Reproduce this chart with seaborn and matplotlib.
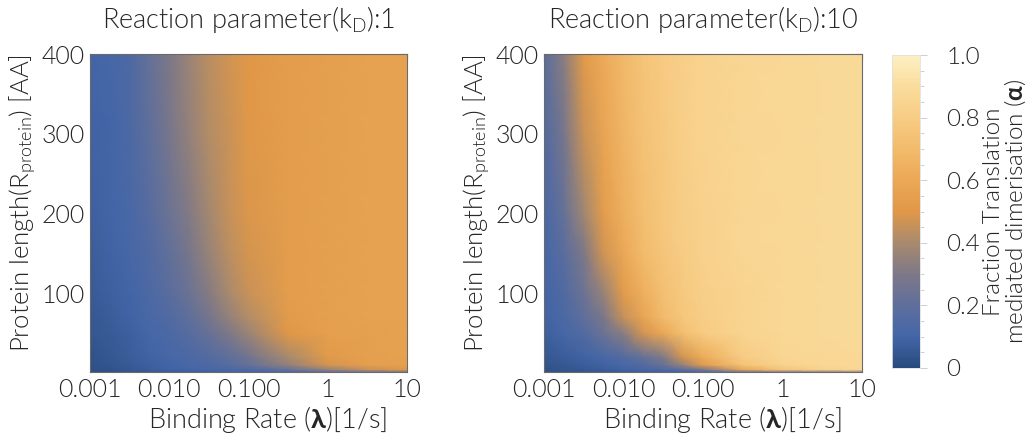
import numpy as np
import matplotlib
matplotlib.use("Agg")
import matplotlib.pyplot as plt
from matplotlib.ticker import FixedLocator, LogLocator, MultipleLocator, NullFormatter
import seaborn as sns

# Sampling grid: binding rate (1/s) and protein length (AA)
binding_rate = [0.001, 0.00178, 0.00316, 0.00562, 0.01, 0.0178, 0.0316,
                0.0562, 0.1, 0.316, 1.0, 3.16, 10.0]
protein_length = [1, 4, 10, 20, 50, 70, 100, 150, 200, 300, 400]

# Fraction of translation-mediated dimerisation, k_D = 1 (rows follow protein_length)
alpha_kd1 = [
    [0.02, 0.03, 0.04, 0.05, 0.06, 0.07, 0.08, 0.09, 0.10, 0.13, 0.18, 0.22, 0.25],
    [0.02, 0.03, 0.05, 0.07, 0.09, 0.10, 0.11, 0.12, 0.14, 0.22, 0.35, 0.45, 0.50],
    [0.03, 0.04, 0.06, 0.08, 0.10, 0.12, 0.14, 0.17, 0.22, 0.35, 0.48, 0.54, 0.55],
    [0.03, 0.05, 0.07, 0.09, 0.11, 0.13, 0.16, 0.20, 0.26, 0.40, 0.51, 0.55, 0.56],
    [0.05, 0.06, 0.08, 0.11, 0.13, 0.17, 0.23, 0.30, 0.37, 0.50, 0.54, 0.55, 0.56],
    [0.05, 0.07, 0.09, 0.12, 0.15, 0.20, 0.27, 0.35, 0.42, 0.52, 0.55, 0.56, 0.56],
    [0.06, 0.08, 0.10, 0.13, 0.18, 0.24, 0.32, 0.40, 0.46, 0.53, 0.55, 0.56, 0.56],
    [0.07, 0.09, 0.11, 0.15, 0.21, 0.28, 0.36, 0.43, 0.48, 0.53, 0.55, 0.56, 0.56],
    [0.08, 0.10, 0.12, 0.17, 0.24, 0.31, 0.39, 0.45, 0.49, 0.53, 0.55, 0.56, 0.56],
    [0.09, 0.10, 0.13, 0.20, 0.28, 0.35, 0.42, 0.46, 0.50, 0.53, 0.55, 0.56, 0.56],
    [0.10, 0.11, 0.14, 0.22, 0.30, 0.37, 0.43, 0.47, 0.50, 0.53, 0.55, 0.56, 0.56],
]

# Same quantity for k_D = 10
alpha_kd10 = [
    [0.02, 0.03, 0.04, 0.05, 0.06, 0.07, 0.08, 0.10, 0.12, 0.20, 0.28, 0.32, 0.35],
    [0.03, 0.04, 0.05, 0.07, 0.09, 0.11, 0.14, 0.19, 0.28, 0.58, 0.75, 0.83, 0.86],
    [0.04, 0.05, 0.07, 0.09, 0.12, 0.16, 0.23, 0.36, 0.52, 0.75, 0.84, 0.87, 0.88],
    [0.05, 0.07, 0.09, 0.12, 0.16, 0.22, 0.31, 0.48, 0.62, 0.80, 0.86, 0.87, 0.88],
    [0.08, 0.11, 0.16, 0.24, 0.33, 0.48, 0.60, 0.72, 0.79, 0.85, 0.87, 0.88, 0.88],
    [0.09, 0.13, 0.20, 0.29, 0.45, 0.58, 0.70, 0.77, 0.81, 0.85, 0.87, 0.88, 0.88],
    [0.10, 0.15, 0.24, 0.36, 0.52, 0.64, 0.73, 0.78, 0.82, 0.85, 0.87, 0.88, 0.88],
    [0.11, 0.18, 0.30, 0.47, 0.60, 0.70, 0.76, 0.80, 0.83, 0.86, 0.87, 0.88, 0.88],
    [0.12, 0.22, 0.38, 0.53, 0.64, 0.72, 0.77, 0.81, 0.83, 0.86, 0.87, 0.88, 0.88],
    [0.15, 0.28, 0.46, 0.58, 0.67, 0.74, 0.78, 0.82, 0.84, 0.86, 0.87, 0.88, 0.88],
    [0.18, 0.33, 0.51, 0.61, 0.69, 0.75, 0.79, 0.82, 0.84, 0.86, 0.87, 0.88, 0.88],
]

panel_kd = ["1", "10"]
x_tick_values = [0.001, 0.01, 0.1, 1, 10]
x_tick_labels = ["0.001", "0.010", "0.100", "1", "10"]
y_tick_values = [100, 200, 300, 400]
cbar_tick_values = [0, 0.2, 0.4, 0.6, 0.8, 1.0]
cbar_tick_labels = ["0", "0.2", "0.4", "0.6", "0.8", "1.0"]

sns.set_theme(style="white")
plt.rcParams["font.family"] = ["Lato", "DejaVu Sans"]
plt.rcParams["font.weight"] = 300
plt.rcParams["mathtext.fontset"] = "custom"
plt.rcParams["mathtext.rm"] = "Lato:weight=300"
plt.rcParams["mathtext.it"] = "Lato:italic:weight=300"
plt.rcParams["mathtext.bf"] = "Lato:bold"
text_color = "#262626"
plt.rcParams["text.color"] = text_color
plt.rcParams["axes.labelcolor"] = text_color
plt.rcParams["axes.labelweight"] = 300
plt.rcParams["axes.titleweight"] = 300
plt.rcParams["xtick.color"] = text_color
plt.rcParams["ytick.color"] = text_color

# Blue -> grey -> orange -> cream colour scale
cmap = sns.blend_palette(
    ["#284b7e", "#4466a8", "#5f6f9c", "#7e7887", "#a88a6e", "#e09848",
     "#eba856", "#f2bb6c", "#f7cc84", "#fadc9c", "#fdf0c4"],
    as_cmap=True,
)

fig = plt.figure(figsize=(10.32, 4.41), dpi=100)
W, H = 1032, 441
axes_boxes = [(90, 54, 317, 318), (544, 54, 318, 318)]

X, Y = np.meshgrid(binding_rate, protein_length)
mesh = None
for (left, top, w, h), kd, field in zip(axes_boxes, panel_kd, [alpha_kd1, alpha_kd10]):
    ax = fig.add_axes([left / W, (H - top - h) / H, w / W, h / H])
    mesh = ax.pcolormesh(X, Y, np.array(field), cmap=cmap, vmin=0, vmax=1,
                         shading="gouraud", rasterized=True)
    ax.set_xscale("log")
    ax.set_xlim(0.001, 10)
    ax.set_ylim(1, 400)

    ax.xaxis.set_major_locator(FixedLocator(x_tick_values))
    ax.set_xticklabels(x_tick_labels)
    ax.xaxis.set_minor_locator(LogLocator(base=10, subs=np.arange(2, 10)))
    ax.xaxis.set_minor_formatter(NullFormatter())
    ax.yaxis.set_major_locator(FixedLocator(y_tick_values))
    ax.yaxis.set_minor_locator(MultipleLocator(20))

    ax.tick_params(which="both", direction="in", top=True, right=True,
                   color="#555555", width=0.8, labelsize=18, labelcolor=text_color)
    ax.tick_params(which="major", length=5, pad=4)
    ax.tick_params(which="minor", length=3)
    for lbl in ax.get_xticklabels() + ax.get_yticklabels():
        lbl.set_fontweight(300)
    for s in ax.spines.values():
        s.set_color("#6a6a6a")
        s.set_linewidth(0.8)

    ax.set_title(r"Reaction parameter(k$\mathregular{_D}$):" + kd, fontsize=19.5,
                 color=text_color, pad=19, fontweight=300)
    ax.set_xlabel(r"Binding Rate ($\mathbf{\lambda}$)[1/s]", fontsize=19.5, fontweight=300)
    ax.set_ylabel(r"Protein length(R$\mathregular{_{protein}}$) [AA]", fontsize=18.5,
                  fontweight=300)
    ax.xaxis.set_label_coords(0.56, -0.10)
    ax.yaxis.set_label_coords(-0.165, 0.53)

cax = fig.add_axes([892 / W, (H - 368) / H, 28 / W, 313 / H])
cbar = fig.colorbar(mesh, cax=cax)
cbar.set_ticks(cbar_tick_values)
cbar.set_ticklabels(cbar_tick_labels)
cbar.ax.yaxis.set_minor_locator(MultipleLocator(0.05))
cbar.ax.tick_params(which="both", direction="out", color="#c8c8c8", width=0.6,
                    labelsize=17.5, labelcolor=text_color)
cbar.ax.tick_params(which="major", length=5, pad=14)
cbar.ax.tick_params(which="minor", length=3)
for lbl in cbar.ax.get_yticklabels():
    lbl.set_fontweight(300)
cbar.outline.set_edgecolor("#e0e0e0")
cbar.outline.set_linewidth(0.6)
cbar.set_label("Fraction Translation\nmediated dimerisation ($\\mathbf{\\alpha}$)",
               fontsize=17.5, labelpad=2, linespacing=0.95, fontweight=300)

fig.savefig("out.png", dpi=100)
